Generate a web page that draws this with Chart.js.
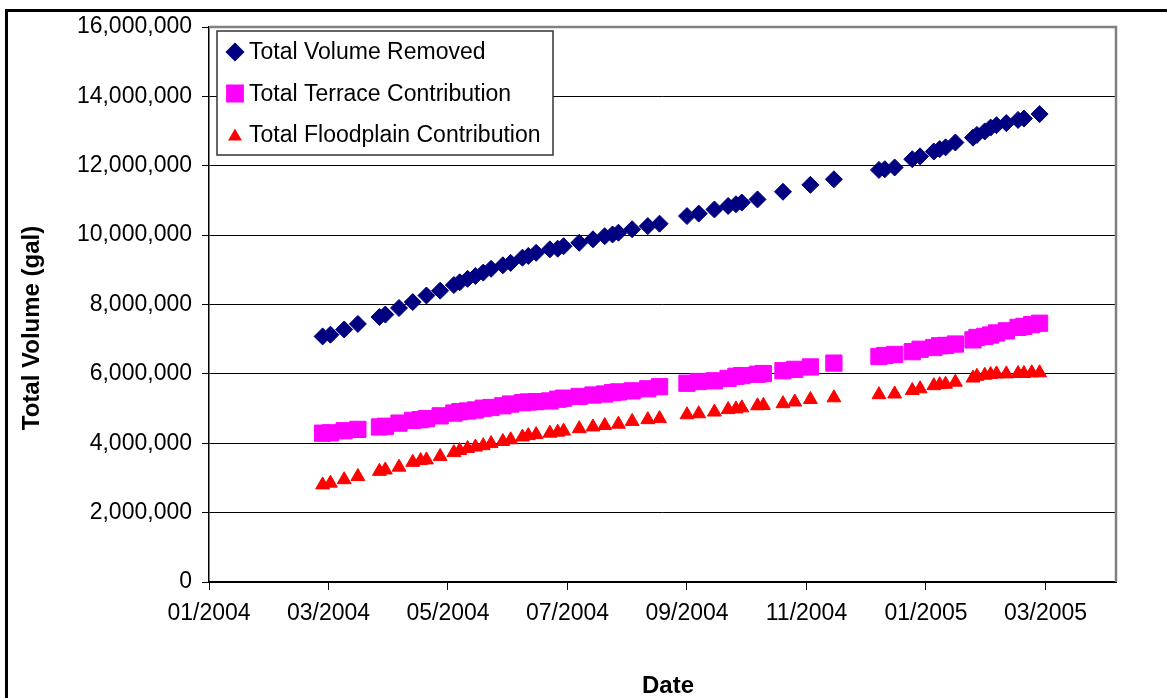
<!DOCTYPE html>
<html>
<head>
<meta charset="utf-8">
<script src="https://cdn.jsdelivr.net/npm/chart.js@4/dist/chart.umd.min.js"></script>
<style>
html,body{margin:0;padding:0;background:#fff;}
#wrap{width:1167px;height:698px;position:relative;}
canvas{display:block;}
</style>
</head>
<body>
<div id="wrap"><canvas id="c" width="1167" height="698"></canvas></div>
<script>
// ---- data ----
const dates = [
 '2004-02-28','2004-03-03','2004-03-10','2004-03-17','2004-03-28','2004-03-31','2004-04-07','2004-04-14','2004-04-18','2004-04-21',
 '2004-04-28','2004-05-05','2004-05-08','2004-05-12','2004-05-16','2004-05-20','2004-05-24','2004-05-30','2004-06-03','2004-06-09',
 '2004-06-12','2004-06-16','2004-06-23','2004-06-27','2004-06-30','2004-07-08','2004-07-15','2004-07-21','2004-07-25','2004-07-28',
 '2004-08-04','2004-08-12','2004-08-18','2004-09-01','2004-09-07','2004-09-15','2004-09-22','2004-09-26','2004-09-29','2004-10-07',
 '2004-10-10','2004-10-20','2004-10-26','2004-11-03','2004-11-15','2004-12-08','2004-12-11','2004-12-16','2004-12-25','2004-12-29',
 '2005-01-05','2005-01-08','2005-01-11','2005-01-16','2005-01-25','2005-01-27','2005-01-31','2005-02-03','2005-02-06','2005-02-11',
 '2005-02-17','2005-02-20','2005-02-24','2005-02-28'
];
const totalVolumeRemoved = [
 7080000,7130000,7280000,7440000,7640000,7710000,7900000,8070000,null,8260000,
 8400000,8560000,8640000,8740000,8820000,8920000,9030000,9130000,9200000,9350000,
 9400000,9490000,9590000,9610000,9680000,9780000,9880000,9970000,10020000,10070000,
 10170000,10260000,10330000,10550000,10620000,10740000,10840000,10890000,10940000,11030000,
 null,11250000,null,11450000,11610000,11880000,11900000,11950000,12190000,12270000,
 12410000,12480000,12530000,12670000,12810000,12890000,12990000,13100000,13170000,13230000,
 13320000,13360000,null,13490000
];
const totalTerraceContribution = [
 4290000,4300000,4360000,4400000,4470000,4490000,4580000,4660000,4680000,4710000,
 4790000,4870000,4910000,4930000,4960000,5010000,5030000,5080000,5130000,5170000,
 5190000,5200000,5220000,5270000,5300000,5350000,5390000,5420000,5460000,5480000,
 5510000,5570000,5630000,5730000,5780000,5800000,5870000,5930000,5950000,5990000,
 6010000,6090000,6130000,6200000,6310000,6500000,6530000,6560000,6640000,6710000,
 6760000,6810000,6820000,6860000,6980000,7050000,7080000,7120000,7180000,7240000,
 7340000,7370000,7420000,7460000
];
const totalFloodplainContribution = [
 2800000,2850000,2950000,3040000,3190000,3230000,3310000,3450000,3500000,3520000,
 3620000,3730000,3790000,3850000,3890000,3930000,3990000,4050000,4100000,4180000,
 4220000,4250000,4290000,4320000,4350000,4420000,4470000,4510000,null,4550000,
 4630000,4680000,4710000,4820000,4850000,4900000,4970000,4990000,5020000,5080000,
 5090000,5140000,5190000,5260000,5310000,5400000,null,5420000,5520000,5570000,
 5660000,5690000,5700000,5760000,5880000,5930000,5960000,5980000,6000000,6000000,
 6010000,6010000,6030000,6030000
];
const seriesNames = ['Total Volume Removed','Total Terrace Contribution','Total Floodplain Contribution'];
const xAxisTitle = 'Date';
const yAxisTitle = 'Total Volume (gal)';
const xStart = '2004-01-01';      // axis minimum
const xEnd = '2005-04-08';        // axis maximum
const xStepDays = 61;             // major unit (days)
const yMin = 0, yMax = 16000000, yStep = 2000000;

// ---- helpers ----
const DAY = 86400000;
const base = Date.parse(xStart + 'T00:00:00Z');
const toDays = s => Math.round((Date.parse(s + 'T00:00:00Z') - base) / DAY);
const pts = vals => dates.map((d, i) => ({x: toDays(d), y: vals[i]})).filter(p => p.y !== null);
const fmtDate = v => {
  const d = new Date(base + v * DAY);
  const m = String(d.getUTCMonth() + 1).padStart(2, '0');
  return m + '/' + d.getUTCFullYear();
};

const FONT = "'Liberation Sans', Arial, sans-serif";
const colors = ['#000080', '#FF00FF', '#FF0000'];
const styles = ['rectRot', 'rect', 'triangle'];
const radii = [8.5, 11.5, 8];

const decor = {
  id: 'decor',
  beforeDraw(chart) {
    const ctx = chart.ctx;
    ctx.save();
    ctx.fillStyle = '#fff';
    ctx.fillRect(0, 0, chart.width, chart.height);
    ctx.restore();
  },
  beforeDatasetsDraw(chart) {
    const ctx = chart.ctx, a = chart.chartArea;
    ctx.save();
    ctx.strokeStyle = '#808080';
    ctx.lineWidth = 2.5;
    ctx.beginPath();
    ctx.moveTo(a.left, a.top);
    ctx.lineTo(a.right, a.top);
    ctx.lineTo(a.right, a.bottom);
    ctx.stroke();
    ctx.restore();
  },
  afterDatasetsDraw(chart) {
    const ctx = chart.ctx;
    ctx.save();
    // outer frame
    ctx.strokeStyle = '#000';
    ctx.lineWidth = 3;
    ctx.beginPath();
    ctx.moveTo(6.5, chart.height);
    ctx.lineTo(6.5, 10.5);
    ctx.lineTo(chart.width, 10.5);
    ctx.stroke();

    // legend box
    const lx = 217, ly = 31, lw = 336, lh = 124;
    ctx.fillStyle = '#fff';
    ctx.fillRect(lx, ly, lw, lh);
    ctx.strokeStyle = '#333';
    ctx.lineWidth = 1.5;
    ctx.strokeRect(lx, ly, lw, lh);
    const rowY = [52, 93.5, 135];
    ctx.font = '23px ' + FONT;
    ctx.textBaseline = 'middle';
    ctx.textAlign = 'left';
    seriesNames.forEach((n, i) => {
      ctx.fillStyle = colors[i];
      ctx.strokeStyle = colors[i];
      const r = i === 2 ? 6.5 : radii[i];
      Chart.helpers.drawPoint(ctx, {pointStyle: styles[i], radius: r, borderWidth: 1, rotation: 0}, 235, rowY[i] + (i === 2 ? 1.5 : 0));
      ctx.fillStyle = '#000';
      ctx.fillText(n, 249, rowY[i] + 1);
    });

    // axis titles
    ctx.fillStyle = '#000';
    ctx.font = 'bold 24px ' + FONT;
    ctx.textAlign = 'center';
    ctx.textBaseline = 'middle';
    ctx.fillText(xAxisTitle, 668, 686);
    ctx.translate(32, 328);
    ctx.rotate(-Math.PI / 2);
    ctx.fillText(yAxisTitle, 0, 0);
    ctx.restore();
  }
};

new Chart(document.getElementById('c'), {
  type: 'scatter',
  data: {
    datasets: [totalVolumeRemoved, totalTerraceContribution, totalFloodplainContribution].map((v, i) => ({
      label: seriesNames[i],
      data: pts(v),
      pointStyle: styles[i],
      pointRadius: radii[i],
      pointHoverRadius: radii[i],
      backgroundColor: colors[i],
      borderColor: colors[i],
      pointBorderWidth: 1,
      showLine: false,
      order: 3 - i
    }))
  },
  options: {
    responsive: false,
    animation: false,
    devicePixelRatio: 1,
    events: [],
    layout: {padding: {left: 0, top: 27, right: 51, bottom: 0}},
    plugins: {legend: {display: false}, tooltip: {enabled: false}},
    scales: {
      x: {
        type: 'linear',
        min: 0,
        max: toDays(xEnd),
        afterFit(s) { s.height = 116; },
        grid: {drawOnChartArea: false, drawTicks: true, tickLength: 8, tickColor: '#000', tickWidth: 1},
        border: {color: '#000', width: 2},
        ticks: {
          stepSize: xStepDays,
          includeBounds: false,
          autoSkip: false,
          maxRotation: 0,
          padding: 10,
          color: '#000',
          font: {family: FONT, size: 23},
          callback: v => fmtDate(v)
        }
      },
      y: {
        min: yMin,
        max: yMax,
        afterFit(s) { s.width = 209; },
        grid: {color: '#000', lineWidth: 1, tickLength: 7, tickColor: '#000', tickWidth: 1},
        border: {color: '#000', width: 1.5},
        ticks: {
          stepSize: yStep,
          padding: 10,
          color: '#000',
          font: {family: FONT, size: 23},
          callback: v => v.toLocaleString('en-US')
        }
      }
    }
  },
  plugins: [decor]
});
</script>
</body>
</html>
